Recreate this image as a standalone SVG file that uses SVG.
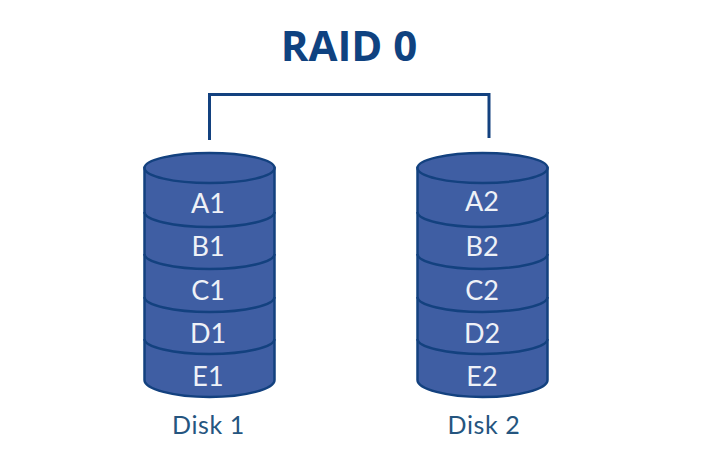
<svg xmlns="http://www.w3.org/2000/svg" width="716" height="451" viewBox="0 0 716 451">
<style>
.body{fill:#3f5ea3;stroke:#13417f;stroke-width:2.500}
.sep{fill:none;stroke:#13417f;stroke-width:2.500}
.lbl{font-family:"Lato","Noto Sans",sans-serif;font-size:27px;fill:#eef1f7;text-anchor:middle}
.cap{font-family:"Lato","Noto Sans",sans-serif;font-size:25px;fill:#25557f;text-anchor:middle;letter-spacing:.6px}
.title{font-family:"Open Sans","Noto Sans",sans-serif;font-weight:700;font-size:42px;fill:#0f4280;text-anchor:middle}
</style>
<defs>
<g id="cyl">
<path class="body" d="M-65 -23V189C-65 198 -36 206 0 206S65 198 65 189V-23Z"/>
<ellipse class="body" cx="0" cy="-23" rx="65" ry="15"/>
<path class="sep" d="M-65 21C-65 29 -36 36 0 36S65 29 65 21"/>
<path class="sep" d="M-65 63C-65 71 -36 78 0 78S65 71 65 63"/>
<path class="sep" d="M-65 106C-65 114 -36 121 0 121S65 114 65 106"/>
<path class="sep" d="M-65 148C-65 156 -36 163 0 163S65 156 65 148"/>
</g>
</defs>
<rect width="716" height="451" fill="#fff"/>
<text id="title" class="title" x="349" y="61">RAID 0</text>
<g id="connectors"><path d="M209.500 140V94.500H489V138" fill="none" stroke="#13417f" stroke-width="3"/></g>
<g id="disk1">
<use href="#cyl" x="209.500" y="191"/>
<text class="lbl" x="208" y="213">A1</text><text class="lbl" x="208" y="256">B1</text><text class="lbl" x="208" y="300">C1</text><text class="lbl" x="208" y="343">D1</text><text class="lbl" x="208" y="386">E1</text>
<text class="cap" x="208.500" y="434">Disk 1</text>
</g>
<g id="disk2">
<use href="#cyl" x="482.500" y="191"/>
<text class="lbl" x="482" y="211">A2</text><text class="lbl" x="482" y="256">B2</text><text class="lbl" x="482" y="300">C2</text><text class="lbl" x="482" y="343">D2</text><text class="lbl" x="482" y="386">E2</text>
<text class="cap" x="484" y="434">Disk 2</text>
</g>
</svg>
